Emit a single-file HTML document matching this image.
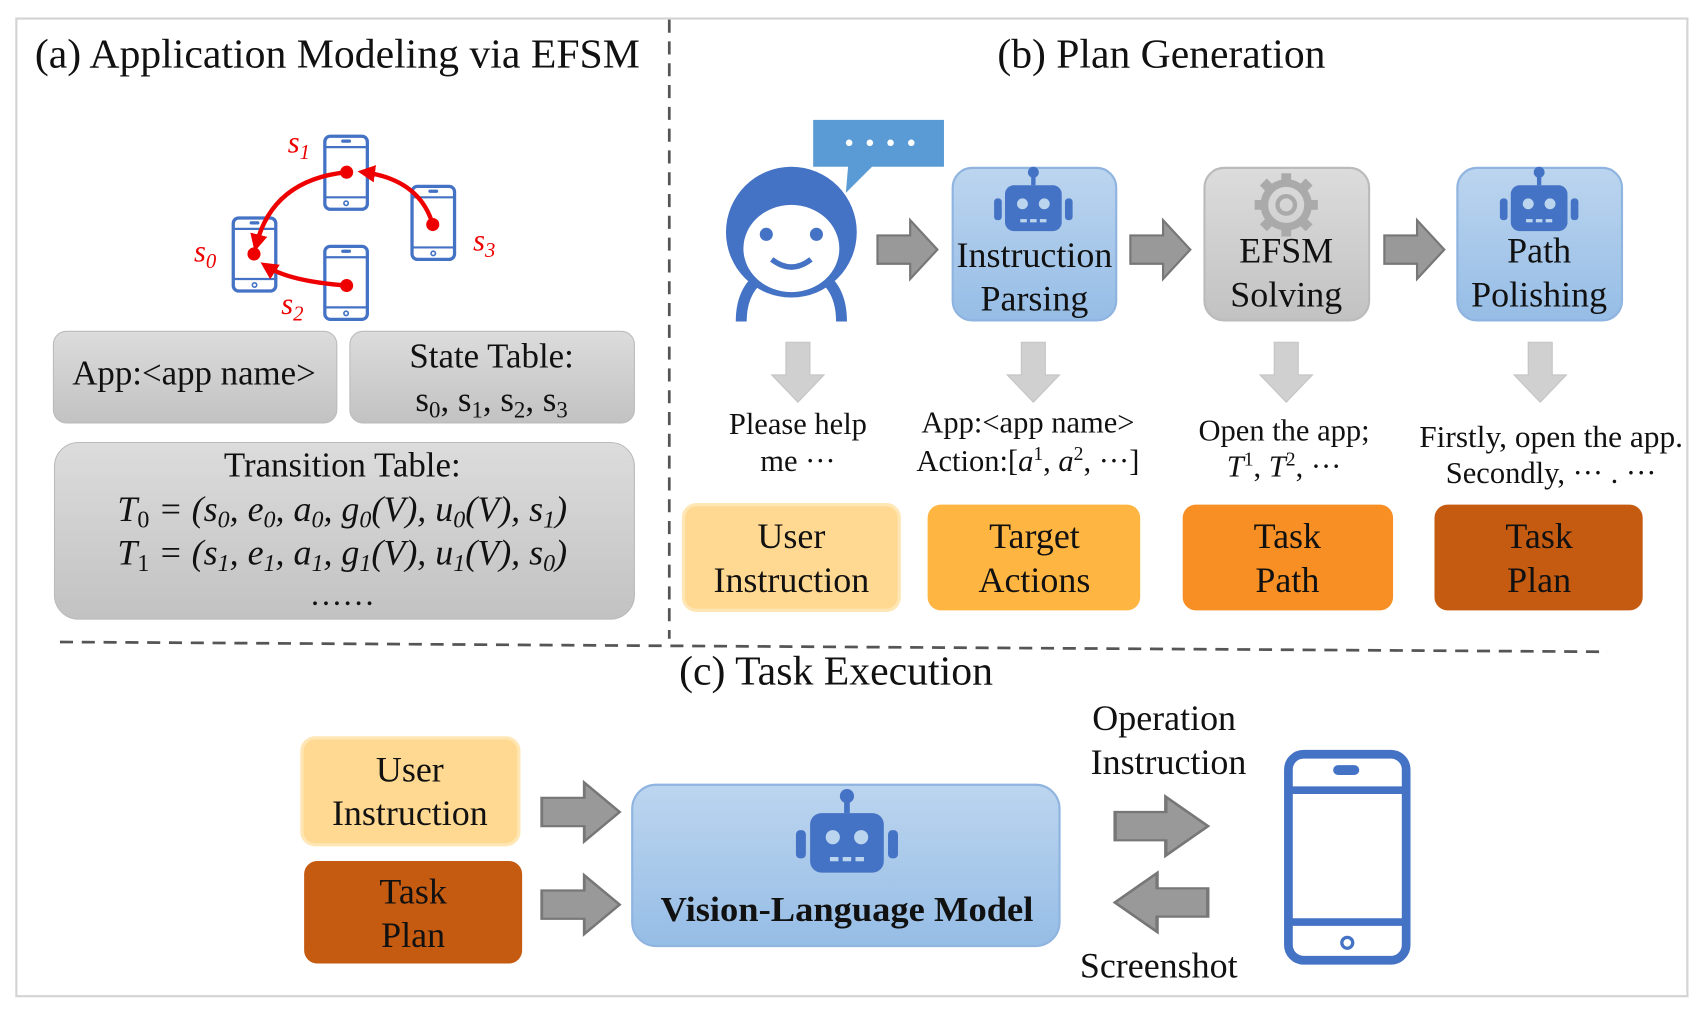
<!DOCTYPE html>
<html><head><meta charset="utf-8"><style>
html,body{margin:0;padding:0;background:#fff;}
svg{display:block;}
text{font-family:"Liberation Serif",serif;fill:#111;}
</style></head><body>
<svg width="1707" height="1018" viewBox="0 0 1566 934" preserveAspectRatio="none" xmlns="http://www.w3.org/2000/svg">
<defs>
<linearGradient id="gg" x1="0" y1="0" x2="0" y2="1"><stop offset="0" stop-color="#dcdcdc"/><stop offset="1" stop-color="#c2c2c2"/></linearGradient>
<linearGradient id="bg" x1="0" y1="0" x2="0" y2="1"><stop offset="0" stop-color="#bcd5ef"/><stop offset="1" stop-color="#96bde6"/></linearGradient>
<g id="arr"><path d="M0,-13 H30 V-27 L55,0 L30,27 V13 H0 Z" fill="#999" stroke="#777" stroke-width="2"/></g>
<g id="darr"><path d="M-11,0 H11 V30 H24 L0,55 L-24,30 H-11 Z" fill="#d0d0d0" stroke="#c4c4c4" stroke-width="1"/></g>
<g id="robot" fill="#4472c4">
<rect x="-26" y="-20" width="52" height="42" rx="8"/>
<rect x="-36" y="-8" width="7" height="20" rx="3"/><rect x="29" y="-8" width="7" height="20" rx="3"/>
<rect x="-2" y="-32" width="4" height="12"/><circle cx="0" cy="-32" r="5"/>
<circle cx="-10" cy="-3" r="5" fill="#bcd5ef"/><circle cx="10" cy="-3" r="5" fill="#bcd5ef"/>
<rect x="-12" y="11" width="6" height="3" fill="#bcd5ef"/><rect x="-3" y="11" width="6" height="3" fill="#bcd5ef"/><rect x="6" y="11" width="6" height="3" fill="#bcd5ef"/>
</g>
<g id="ph"><rect x="0" y="0" width="39" height="67" rx="5" fill="#fff" stroke="#4472c4" stroke-width="3"/><line x1="0" y1="10" x2="39" y2="10" stroke="#4472c4" stroke-width="2"/><line x1="0" y1="56" x2="39" y2="56" stroke="#4472c4" stroke-width="2"/><rect x="15" y="3" width="9" height="3" rx="1.5" fill="#4472c4"/><circle cx="19.5" cy="61.5" r="2" fill="none" stroke="#4472c4" stroke-width="1.5"/></g>
<marker id="rh" markerWidth="4" markerHeight="4" refX="2.5" refY="2" orient="auto" markerUnits="strokeWidth"><path d="M0,0 L4,2 L0,4 Z" fill="#e00"/></marker>
</defs>

<rect x="15" y="17" width="1533" height="897" fill="#fff" stroke="#d4d4d4" stroke-width="2"/>
<line x1="614" y1="18" x2="614" y2="586" stroke="#555" stroke-width="2.5" stroke-dasharray="12,8"/>
<line x1="55" y1="589" x2="1475" y2="598" stroke="#555" stroke-width="2.5" stroke-dasharray="12,8"/>

<text x="32" y="62" font-size="38" textLength="555" lengthAdjust="spacingAndGlyphs">(a) Application Modeling via EFSM</text>
<text x="915" y="62" font-size="38" textLength="301" lengthAdjust="spacingAndGlyphs">(b) Plan Generation</text>
<text x="623" y="628" font-size="38" textLength="288" lengthAdjust="spacingAndGlyphs">(c) Task Execution</text>

<use href="#ph" x="298" y="125"/><use href="#ph" x="378" y="171"/><use href="#ph" x="214" y="200"/><use href="#ph" x="298" y="226"/>
<g stroke="#e00" stroke-width="4" fill="none">
<path d="M318,158 Q250,165 235,225" marker-end="url(#rh)"/>
<path d="M397,206 Q385,165 334,158" marker-end="url(#rh)"/>
<path d="M318,262 Q265,258 244,244" marker-end="url(#rh)"/>
</g>
<g fill="#e00"><circle cx="318" cy="158" r="6"/><circle cx="397" cy="206" r="6"/><circle cx="233" cy="233" r="6"/><circle cx="318" cy="262" r="6"/></g>
<g font-size="28" font-style="italic"><text x="264" y="140" style="fill:#e00">s<tspan font-size="19" dy="6">1</tspan></text>
<text x="178" y="240" style="fill:#e00">s<tspan font-size="19" dy="6">0</tspan></text>
<text x="434" y="230" style="fill:#e00">s<tspan font-size="19" dy="6">3</tspan></text>
<text x="258" y="288" style="fill:#e00">s<tspan font-size="19" dy="6">2</tspan></text></g>

<rect x="49" y="304" width="260" height="84" rx="12" fill="url(#gg)" stroke="#bbb"/>
<text x="178" y="353" font-size="32" text-anchor="middle">App:&lt;app name&gt;</text>
<rect x="321" y="304" width="261" height="84" rx="12" fill="url(#gg)" stroke="#bbb"/>
<text x="451" y="337" font-size="32" text-anchor="middle">State Table:</text>
<text x="451" y="377" font-size="32" text-anchor="middle">s<tspan font-size="21" dy="6">0</tspan><tspan dy="-6">, s</tspan><tspan font-size="21" dy="6">1</tspan><tspan dy="-6">, s</tspan><tspan font-size="21" dy="6">2</tspan><tspan dy="-6">, s</tspan><tspan font-size="21" dy="6">3</tspan></text>
<rect x="50" y="406" width="532" height="162" rx="22" fill="url(#gg)" stroke="#bbb"/>
<text x="314" y="437" font-size="32" text-anchor="middle">Transition Table:</text>
<text x="314" y="478" font-size="33" text-anchor="middle" font-style="italic">T<tspan font-size="22" dy="6" font-style="normal">0</tspan><tspan dy="-6"> = (s</tspan><tspan font-size="22" dy="6">0</tspan><tspan dy="-6">, e</tspan><tspan font-size="22" dy="6">0</tspan><tspan dy="-6">, a</tspan><tspan font-size="22" dy="6">0</tspan><tspan dy="-6">, g</tspan><tspan font-size="22" dy="6">0</tspan><tspan dy="-6">(V), u</tspan><tspan font-size="22" dy="6">0</tspan><tspan dy="-6">(V), s</tspan><tspan font-size="22" dy="6">1</tspan><tspan dy="-6">)</tspan></text>
<text x="314" y="518" font-size="33" text-anchor="middle" font-style="italic">T<tspan font-size="22" dy="6" font-style="normal">1</tspan><tspan dy="-6"> = (s</tspan><tspan font-size="22" dy="6">1</tspan><tspan dy="-6">, e</tspan><tspan font-size="22" dy="6">1</tspan><tspan dy="-6">, a</tspan><tspan font-size="22" dy="6">1</tspan><tspan dy="-6">, g</tspan><tspan font-size="22" dy="6">1</tspan><tspan dy="-6">(V), u</tspan><tspan font-size="22" dy="6">1</tspan><tspan dy="-6">(V), s</tspan><tspan font-size="22" dy="6">0</tspan><tspan dy="-6">)</tspan></text>
<text x="314" y="555" font-size="30" text-anchor="middle">……</text>

<path d="M680,295 Q680,262 705,250 M772,295 Q772,262 748,250" stroke="#4472c4" stroke-width="10" fill="none"/>
<circle cx="726" cy="213" r="60" fill="#4472c4"/>
<ellipse cx="726" cy="228" rx="44" ry="40" fill="#fff"/>
<circle cx="703" cy="215" r="6" fill="#4472c4"/><circle cx="749" cy="215" r="6" fill="#4472c4"/>
<path d="M708,238 Q726,252 744,238" stroke="#4472c4" stroke-width="5" fill="none"/>
<path d="M746,110 H866 V153 H800 L776,177 L778,153 H746 Z" fill="#5b9bd5"/>
<g fill="#fff"><circle cx="779" cy="131" r="3"/><circle cx="798" cy="131" r="3"/><circle cx="817" cy="131" r="3"/><circle cx="836" cy="131" r="3"/></g>

<use href="#arr" x="805" y="229"/><use href="#arr" x="1037" y="229"/><use href="#arr" x="1270" y="229"/>

<rect x="874" y="154" width="150" height="140" rx="18" fill="url(#bg)" stroke="#8fb4e0" stroke-width="2"/>
<use href="#robot" x="948" y="190"/>
<text x="949" y="245" font-size="33" text-anchor="middle">Instruction</text>
<text x="949" y="285" font-size="33" text-anchor="middle">Parsing</text>
<rect x="1105" y="154" width="151" height="140" rx="18" fill="url(#gg)" stroke="#bbb" stroke-width="2"/>
<g transform="translate(1180,188)" fill="none" stroke="#aaa" stroke-width="7"><circle r="20"/><circle r="8" stroke-width="4"/>
<g stroke-width="9"><line y1="-20" y2="-29"/><line y1="20" y2="29"/><line x1="-20" x2="-29"/><line x1="20" x2="29"/><line x1="14" y1="14" x2="21" y2="21"/><line x1="-14" y1="-14" x2="-21" y2="-21"/><line x1="14" y1="-14" x2="21" y2="-21"/><line x1="-14" y1="14" x2="-21" y2="21"/></g></g>
<text x="1180" y="241" font-size="33" text-anchor="middle">EFSM</text>
<text x="1180" y="281" font-size="33" text-anchor="middle">Solving</text>
<rect x="1337" y="154" width="151" height="140" rx="18" fill="url(#bg)" stroke="#8fb4e0" stroke-width="2"/>
<use href="#robot" x="1412" y="190"/>
<text x="1412" y="241" font-size="33" text-anchor="middle">Path</text>
<text x="1412" y="281" font-size="33" text-anchor="middle">Polishing</text>

<use href="#darr" x="732" y="314"/><use href="#darr" x="948" y="314"/><use href="#darr" x="1180" y="314"/><use href="#darr" x="1413" y="314"/>

<g font-size="28" text-anchor="middle">
<text x="732" y="398">Please help</text><text x="732" y="432">me ···</text>
<text x="943" y="397">App:&lt;app name&gt;</text><text x="943" y="432">Action:[<tspan font-style="italic">a</tspan><tspan font-size="18" dy="-10">1</tspan><tspan dy="10">, </tspan><tspan font-style="italic">a</tspan><tspan font-size="18" dy="-10">2</tspan><tspan dy="10">, ···]</tspan></text>
<text x="1178" y="404">Open the app;</text><text x="1178" y="437"><tspan font-style="italic">T</tspan><tspan font-size="18" dy="-10">1</tspan><tspan dy="10">, </tspan><tspan font-style="italic">T</tspan><tspan font-size="18" dy="-10">2</tspan><tspan dy="10">, ···</tspan></text>
<text x="1423" y="410" textLength="242" lengthAdjust="spacingAndGlyphs">Firstly, open the app.</text><text x="1423" y="443">Secondly, ··· . ···</text>
</g>

<rect x="627" y="463" width="198" height="97" rx="12" fill="#ffd991" stroke="#ffe6b5" stroke-width="3"/>
<rect x="851" y="463" width="195" height="97" rx="12" fill="#ffb541"/>
<rect x="1085" y="463" width="193" height="97" rx="12" fill="#f78f24"/>
<rect x="1316" y="463" width="191" height="97" rx="12" fill="#c55a11"/>
<g font-size="33" text-anchor="middle">
<text x="726" y="503">User</text><text x="726" y="543">Instruction</text>
<text x="949" y="503">Target</text><text x="949" y="543">Actions</text>
<text x="1181" y="503">Task</text><text x="1181" y="543">Path</text>
<text x="1412" y="503">Task</text><text x="1412" y="543">Plan</text>
</g>

<rect x="277" y="677" width="199" height="98" rx="12" fill="#ffd991" stroke="#ffe6b5" stroke-width="3"/>
<rect x="279" y="790" width="200" height="94" rx="12" fill="#c55a11"/>
<g font-size="33" text-anchor="middle">
<text x="376" y="717">User</text><text x="376" y="757">Instruction</text>
<text x="379" y="829">Task</text><text x="379" y="869">Plan</text>
</g>
<g transform="translate(497,745) scale(1.3,1)"><use href="#arr"/></g>
<g transform="translate(497,830) scale(1.3,1)"><use href="#arr"/></g>
<rect x="580" y="720" width="392" height="148" rx="22" fill="url(#bg)" stroke="#8fb4e0" stroke-width="2"/>
<g transform="translate(777,772) scale(1.3)"><use href="#robot"/></g>
<text x="777" y="845" font-size="32" font-weight="bold" text-anchor="middle" textLength="342" lengthAdjust="spacingAndGlyphs">Vision-Language Model</text>
<text x="1068" y="670" font-size="33" text-anchor="middle">Operation</text>
<text x="1072" y="710" font-size="33" text-anchor="middle">Instruction</text>
<g transform="translate(1023,758) scale(1.55,1)"><use href="#arr"/></g>
<g transform="translate(1108,828) scale(-1.55,1)"><use href="#arr"/></g>
<text x="1063" y="897" font-size="33" text-anchor="middle">Screenshot</text>
<rect x="1182" y="692" width="108" height="189" rx="14" fill="#fff" stroke="#4472c4" stroke-width="8"/>
<line x1="1182" y1="725" x2="1290" y2="725" stroke="#4472c4" stroke-width="7"/>
<line x1="1182" y1="846" x2="1290" y2="846" stroke="#4472c4" stroke-width="7"/>
<rect x="1223" y="702" width="24" height="9" rx="4.5" fill="#4472c4"/>
<circle cx="1236" cy="865" r="5" fill="none" stroke="#4472c4" stroke-width="3"/>
</svg>
</body></html>
